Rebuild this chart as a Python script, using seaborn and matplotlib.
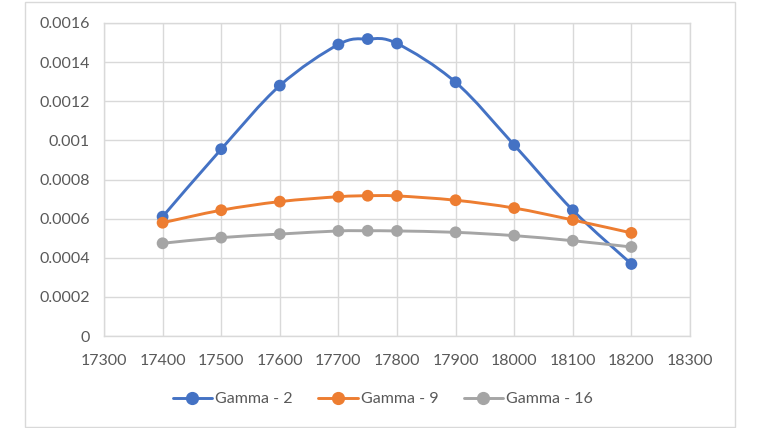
import seaborn as sns
import matplotlib.pyplot as plt
import pandas as pd
import numpy as np
from matplotlib.path import Path
from matplotlib.patches import PathPatch, Rectangle
from matplotlib.lines import Line2D

sns.set_theme(style="white")
plt.rcParams['font.family'] = ['Lato', 'DejaVu Sans']

# data
x_vals = [17400, 17500, 17600, 17700, 17750, 17800, 17900, 18000, 18100, 18200]
gamma_2 = [0.00061, 0.000955, 0.00128, 0.00149, 0.001518, 0.001495, 0.001297, 0.000976, 0.000643, 0.000368]
gamma_9 = [0.000579, 0.000643, 0.000687, 0.000712, 0.000717, 0.000716, 0.000694, 0.000654, 0.000593, 0.000527]
gamma_16 = [0.000474, 0.000503, 0.000521, 0.000537, 0.000538, 0.000537, 0.00053, 0.000513, 0.000487, 0.000455]
series_names = ["Gamma - 2", "Gamma - 9", "Gamma - 16"]
colors = ["#4472C4", "#ED7D31", "#A5A5A5"]
x_ticks = list(range(17300, 18301, 100))
y_ticks = [0, 0.0002, 0.0004, 0.0006, 0.0008, 0.001, 0.0012, 0.0014, 0.0016]
y_labels = ["0", "0.0002", "0.0004", "0.0006", "0.0008", "0.001", "0.0012", "0.0014", "0.0016"]

df = pd.DataFrame({
    "x": x_vals * 3,
    "y": gamma_2 + gamma_9 + gamma_16,
    "series": [s for s in series_names for _ in x_vals],
})

fig = plt.figure(figsize=(7.6, 4.28), dpi=100)
fig.patches.append(Rectangle((25 / 760, 1 / 428), 710 / 760, 425 / 428,
                             transform=fig.transFigure, fill=False,
                             edgecolor="#d9d9d9", linewidth=1))
ax = fig.add_axes([104 / 760, 92 / 428, 586 / 760, 313 / 428])


def smooth_path(xs, ys):
    # Excel-like smoothed line: Catmull-Rom segments as cubic Bezier curves
    pts = np.column_stack([xs, ys]).astype(float)
    n = len(pts)
    verts = [pts[0]]
    codes = [Path.MOVETO]
    for i in range(n - 1):
        p0 = pts[max(i - 1, 0)]
        p1 = pts[i]
        p2 = pts[i + 1]
        p3 = pts[min(i + 2, n - 1)]
        c1 = p1 + (p2 - p0) / 6
        c2 = p2 - (p3 - p1) / 6
        verts += [c1, c2, p2]
        codes += [Path.CURVE4] * 3
    return Path(verts, codes)


for name, col in zip(series_names, colors):
    sub = df[df["series"] == name]
    ax.add_patch(PathPatch(smooth_path(sub["x"], sub["y"]), facecolor="none",
                           edgecolor=col, linewidth=2.1, zorder=2))

sns.scatterplot(data=df, x="x", y="y", hue="series", palette=colors,
                s=72, edgecolor="none", legend=False, ax=ax, zorder=3)

ax.set_xlim(17300, 18300)
ax.set_ylim(0, 0.0016)
ax.set_xticks(x_ticks)
ax.set_xticklabels([str(t) for t in x_ticks])
ax.set_yticks(y_ticks)
ax.set_yticklabels(y_labels)
ax.set_xlabel("")
ax.set_ylabel("")
ax.grid(True, color="#d9d9d9", linewidth=1)
ax.set_axisbelow(True)
for sp in ax.spines.values():
    sp.set_color("#d9d9d9")
    sp.set_linewidth(1)
ax.tick_params(axis="both", length=0, labelsize=11.5, colors="#595959")
ax.tick_params(axis="x", pad=13)
ax.tick_params(axis="y", pad=10)

handles = [Line2D([0], [0], color=c, linewidth=2.1, marker="o", markersize=8.5)
           for c in colors]
fig.legend(handles, series_names, loc="center", bbox_to_anchor=(383 / 760, 1 - 399 / 428),
           ncol=3, frameon=False, fontsize=11.5, handlelength=2.45, handletextpad=0.2,
           columnspacing=1.6, labelcolor="#595959")

fig.savefig("out.png", dpi=100)
